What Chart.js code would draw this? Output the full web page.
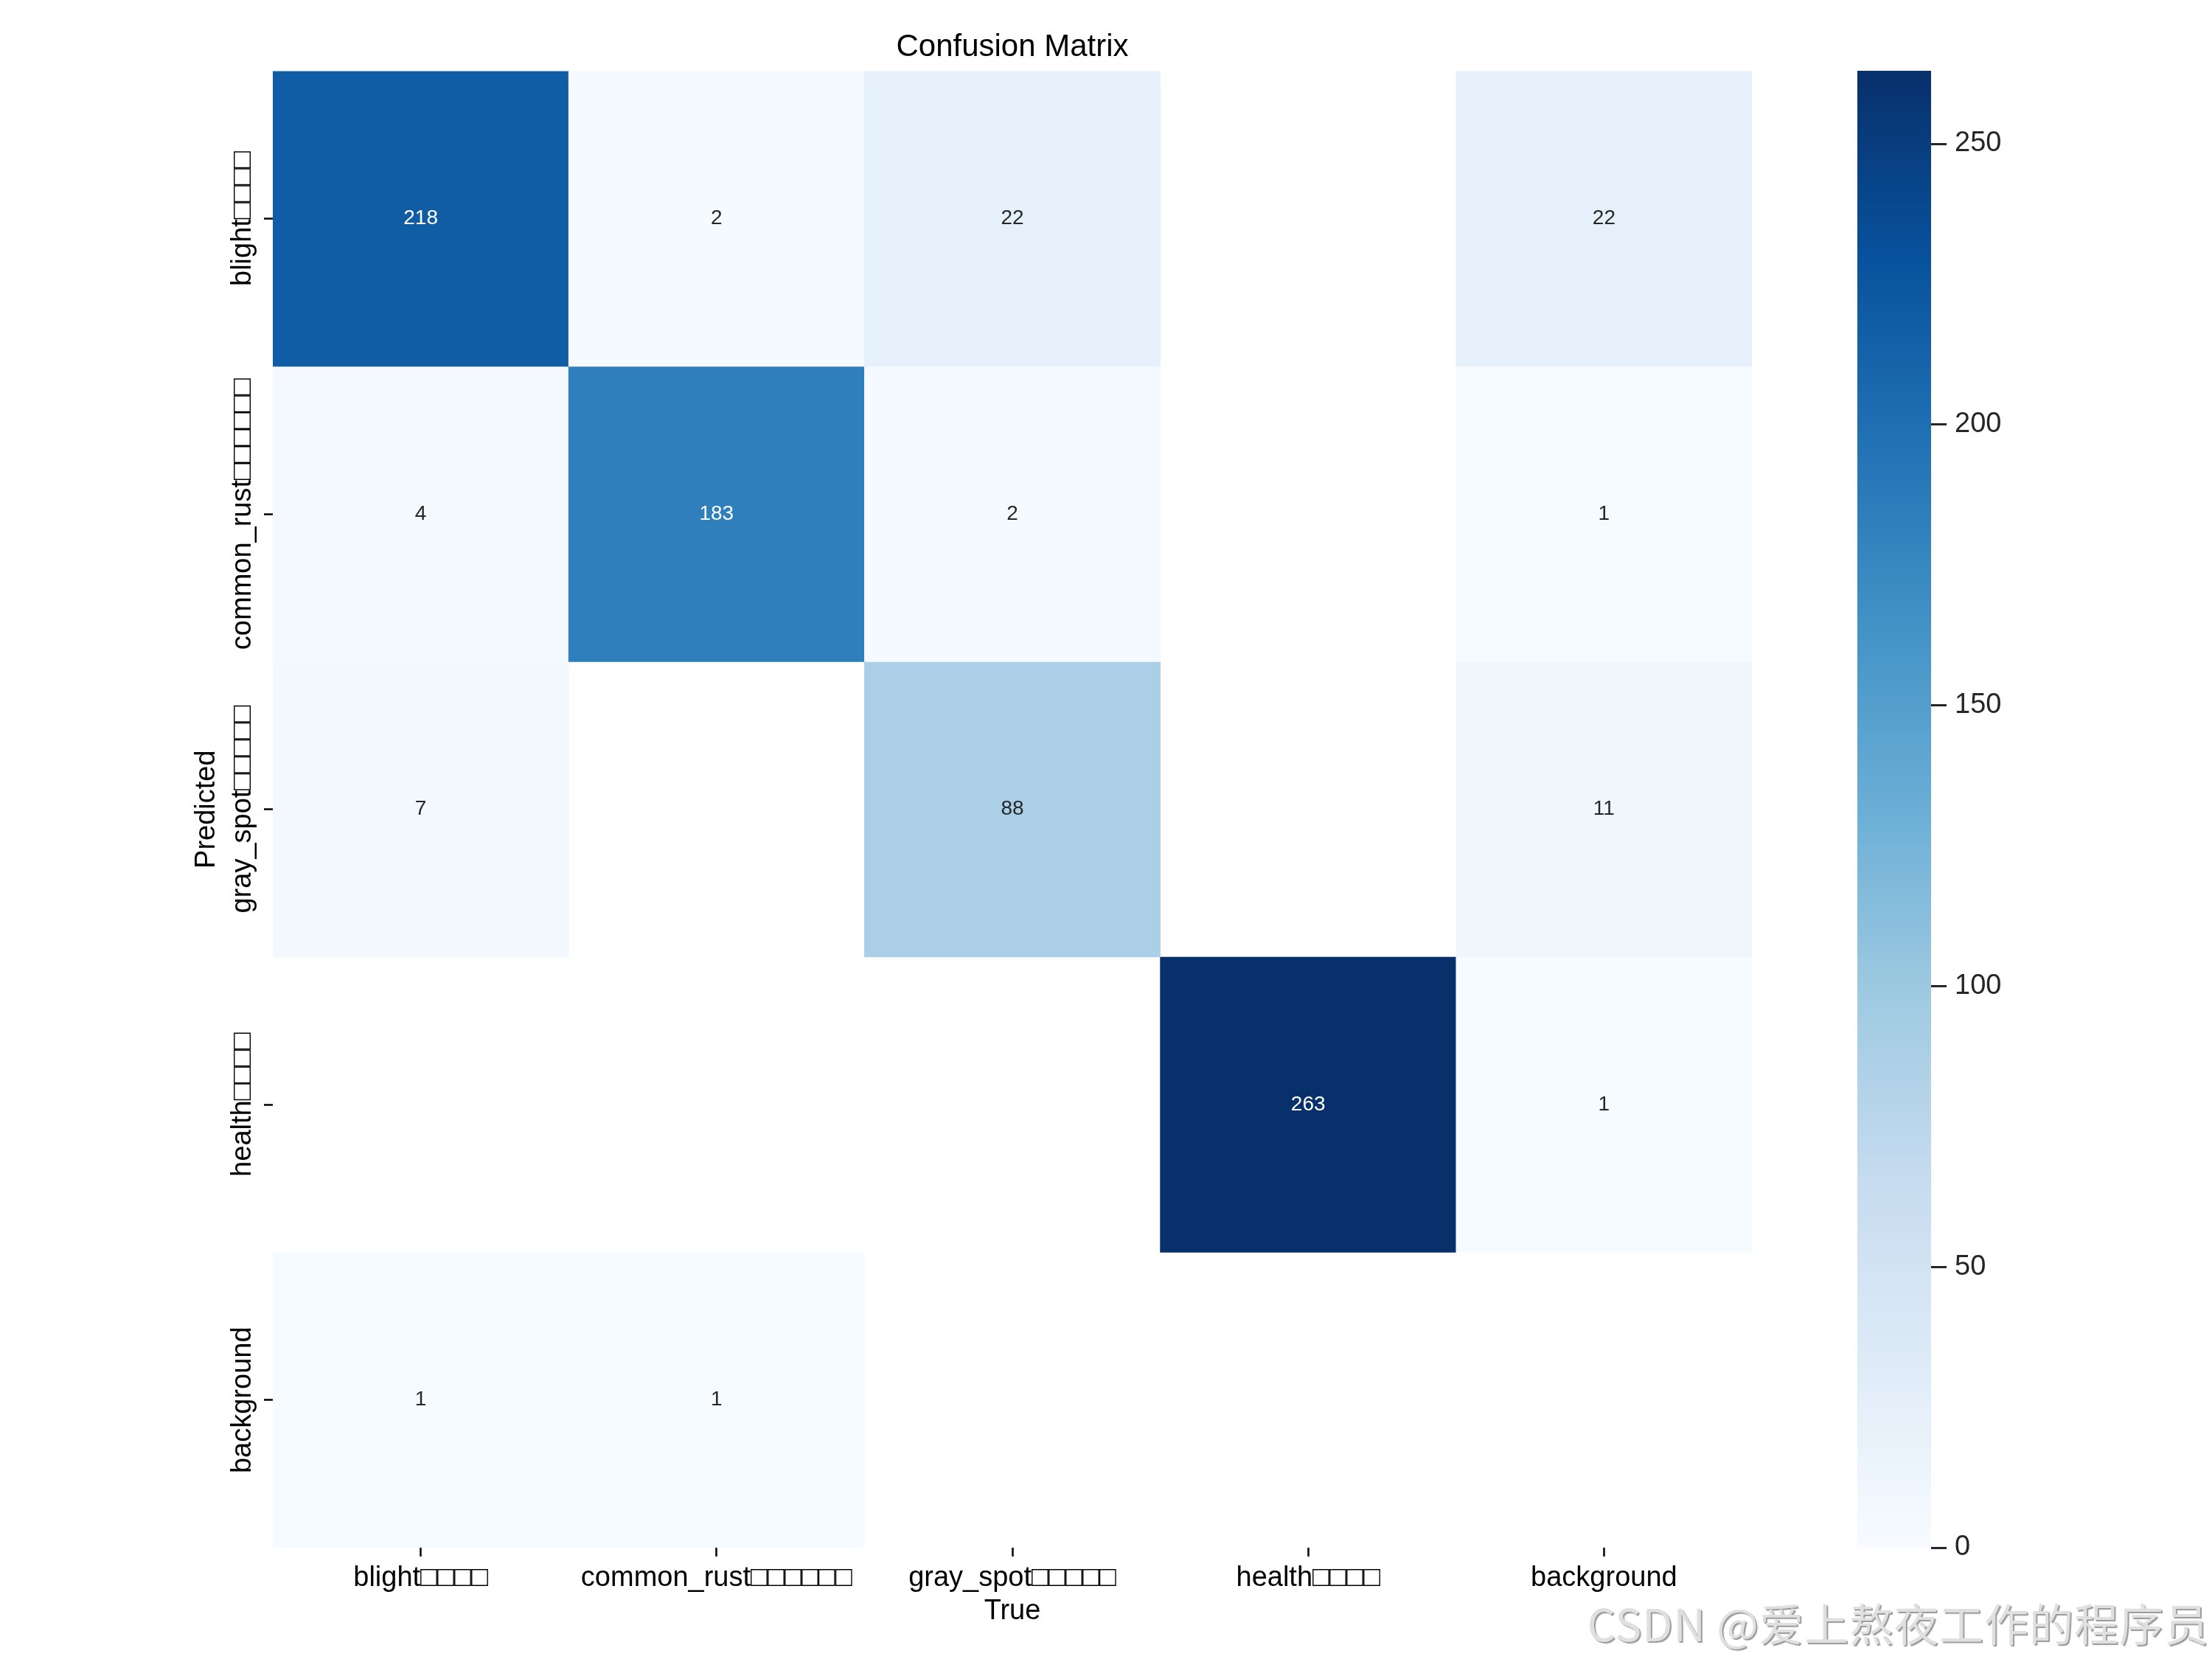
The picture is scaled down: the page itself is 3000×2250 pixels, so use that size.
<!DOCTYPE html>
<html>
<head>
<meta charset="utf-8">
<title>Confusion Matrix</title>
<script src="https://cdn.jsdelivr.net/npm/chart.js@4.4.1/dist/chart.umd.min.js"></script>
<style>
  html, body { margin: 0; padding: 0; background: #fff; }
  #wrap { position: relative; width: 3000px; height: 2250px; overflow: hidden; }
  #wrap canvas { position: absolute; top: 0; }
  #cm { left: 0; }
  #cbar { left: 2400px; }
  #mark {
    position: absolute; right: 4px; top: 2170px;
    font: 60px "Noto Sans CJK SC", sans-serif; line-height: 60px; letter-spacing: 1px;
    color: #e0e0e0; text-shadow: 2px 2px 1px #9a9a9a; white-space: nowrap;
  }
</style>
</head>
<body>
<div id="wrap">
  <canvas id="cm" width="3000" height="2250"></canvas>
  <canvas id="cbar" width="600" height="2250"></canvas>
  <div id="mark">CSDN @爱上熬夜工作的程序员</div>
</div>
<script>
// ===== 데이터 =====
var TRUE_LABELS = ["blight□□□□", "common_rust□□□□□□", "gray_spot□□□□□", "health□□□□", "background"];
var PRED_LABELS = ["blight□□□□", "common_rust□□□□□□", "gray_spot□□□□□", "health□□□□", "background"];

// rows = Predicted, columns = True (0 = empty cell)
var ROW_BLIGHT      = [218,   2, 22,   0, 22];
var ROW_COMMON_RUST = [  4, 183,  2,   0,  1];
var ROW_GRAY_SPOT   = [  7,   0, 88,   0, 11];
var ROW_HEALTH      = [  0,   0,  0, 263,  1];
var ROW_BACKGROUND  = [  1,   1,  0,   0,  0];
var MATRIX = [ROW_BLIGHT, ROW_COMMON_RUST, ROW_GRAY_SPOT, ROW_HEALTH, ROW_BACKGROUND];

var CBAR_TICKS = [0, 50, 100, 150, 200, 250];

var VMAX = Math.max.apply(null, MATRIX.map(function (r) { return Math.max.apply(null, r); }));

// ===== Blues colormap =====
var BLUES = ["#f7fbff", "#deebf7", "#c6dbef", "#9ecae1", "#6baed6", "#4292c6", "#2171b5", "#08519c", "#08306b"];
var FONT = '"Liberation Sans", Arial, "DejaVu Sans", sans-serif';

function hexRgb(h) {
  return [parseInt(h.substr(1, 2), 16), parseInt(h.substr(3, 2), 16), parseInt(h.substr(5, 2), 16)];
}
function blues(t) {
  t = Math.max(0, Math.min(1, t));
  var p = t * (BLUES.length - 1);
  var i = Math.min(Math.floor(p), BLUES.length - 2);
  var f = p - i;
  var a = hexRgb(BLUES[i]), b = hexRgb(BLUES[i + 1]);
  return [0, 1, 2].map(function (k) { return Math.round(a[k] + (b[k] - a[k]) * f); });
}
function rgbStr(c) { return "rgb(" + c[0] + "," + c[1] + "," + c[2] + ")"; }
function luminance(c) {
  var l = c.map(function (v) {
    v = v / 255;
    return v <= 0.03928 ? v / 12.92 : Math.pow((v + 0.055) / 1.055, 2.4);
  });
  return 0.2126 * l[0] + 0.7152 * l[1] + 0.0722 * l[2];
}

// ===== 셀 숫자 =====
var cellText = {
  id: "cellText",
  afterDatasetsDraw: function (chart) {
    var ctx = chart.ctx, xs = chart.scales.x, ys = chart.scales.y;
    ctx.save();
    ctx.font = "28px " + FONT;
    ctx.textAlign = "center";
    ctx.textBaseline = "middle";
    MATRIX.forEach(function (row, r) {
      row.forEach(function (v, c) {
        if (!(v > 0)) return;
        ctx.fillStyle = luminance(blues(v / VMAX)) > 0.408 ? "#262626" : "#ffffff";
        ctx.fillText(String(v), xs.getPixelForValue(c), ys.getPixelForValue(r));
      });
    });
    ctx.restore();
  }
};

// ===== y 눈금 라벨 (90도 회전) =====
var yTickText = {
  id: "yTickText",
  afterDraw: function (chart) {
    var ctx = chart.ctx, ys = chart.scales.y;
    var x = ys.right - 30;
    ctx.save();
    ctx.font = "38px " + FONT;
    ctx.fillStyle = "#000";
    ctx.textAlign = "center";
    ctx.textBaseline = "alphabetic";
    PRED_LABELS.forEach(function (lab, i) {
      ctx.save();
      ctx.translate(x, ys.getPixelForValue(i));
      ctx.rotate(-Math.PI / 2);
      ctx.fillText(lab, 0, 0);
      ctx.restore();
    });
    ctx.restore();
  }
};

function tickGrid() {
  return { display: true, offset: false, drawOnChartArea: false, drawTicks: true, tickLength: 12, tickWidth: 2.5, tickColor: "#000" };
}

var datasets = MATRIX.map(function (row, r) {
  return {
    label: PRED_LABELS[r],
    data: row.map(function (v) { return v > 0 ? [r - 0.5, r + 0.5] : null; }),
    backgroundColor: row.map(function (v) { return rgbStr(blues(v / VMAX)); }),
    borderWidth: 0,
    grouped: false,
    barPercentage: 1,
    categoryPercentage: 1
  };
});

new Chart(document.getElementById("cm"), {
  type: "bar",
  data: { labels: TRUE_LABELS, datasets: datasets },
  options: {
    responsive: false,
    devicePixelRatio: 1,
    animation: false,
    layout: { padding: { left: 258, right: 624, top: 0, bottom: 42 } },
    plugins: {
      legend: { display: false },
      tooltip: { enabled: false },
      title: {
        display: true, text: "Confusion Matrix", fullSize: false, color: "#000",
        font: { family: FONT, size: 42, weight: "normal" },
        padding: { top: 39, bottom: 7 }
      }
    },
    scales: {
      x: {
        type: "category",
        offset: true,
        border: { display: false },
        grid: tickGrid(),
        ticks: { color: "#000", font: { family: FONT, size: 38 }, padding: 7, maxRotation: 0, minRotation: 0, autoSkip: false },
        title: { display: true, text: "True", color: "#000", font: { family: FONT, size: 38 }, padding: 0 },
        afterFit: function (s) { s.height = 109; }
      },
      y: {
        type: "linear",
        min: -0.5,
        max: 4.5,
        reverse: true,
        afterBuildTicks: function (s) { s.ticks = PRED_LABELS.map(function (_, i) { return { value: i }; }); },
        border: { display: false },
        grid: tickGrid(),
        ticks: { display: false },
        title: { display: true, text: "Predicted", color: "#000", font: { family: FONT, size: 38 }, padding: 0 },
        afterFit: function (s) { s.width = 112; }
      }
    }
  },
  plugins: [cellText, yTickText]
});

// ===== 컬러바 =====
new Chart(document.getElementById("cbar"), {
  type: "bar",
  data: {
    labels: [""],
    datasets: [{
      data: [[0, VMAX]],
      backgroundColor: function (c) {
        var chart = c.chart;
        if (!chart.chartArea || !chart.scales.y) return BLUES[0];
        var y = chart.scales.y;
        var g = chart.ctx.createLinearGradient(0, y.getPixelForValue(0), 0, y.getPixelForValue(VMAX));
        BLUES.forEach(function (col, i) { g.addColorStop(i / (BLUES.length - 1), col); });
        return g;
      },
      borderWidth: 0,
      barPercentage: 1,
      categoryPercentage: 1
    }]
  },
  options: {
    responsive: false,
    devicePixelRatio: 1,
    animation: false,
    layout: { padding: { left: 119, right: 181, top: 96, bottom: 151 } },
    plugins: { legend: { display: false }, tooltip: { enabled: false } },
    scales: {
      x: { display: false },
      y: {
        position: "right",
        min: 0,
        max: VMAX,
        afterBuildTicks: function (s) { s.ticks = CBAR_TICKS.map(function (v) { return { value: v }; }); },
        border: { display: false },
        grid: { drawOnChartArea: false, drawTicks: true, tickLength: 21, tickWidth: 3, tickColor: "#262626" },
        ticks: { color: "#262626", font: { family: FONT, size: 38 }, padding: 11 },
        afterFit: function (s) { s.width = 200; }
      }
    }
  }
});
</script>
</body>
</html>
